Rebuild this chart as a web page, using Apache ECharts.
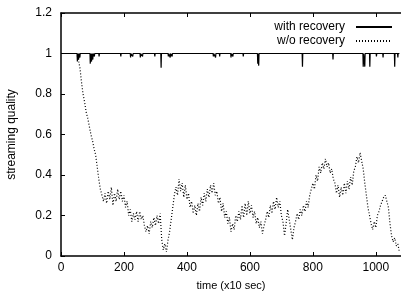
<!doctype html>
<html lang="en">
<head>
	<meta charset="utf-8" />
	<title>streaming quality</title>
	<script src="https://cdn.jsdelivr.net/npm/echarts@6/dist/echarts.min.js"></script>
	<style>
		html, body { margin: 0; padding: 0; background: #fff; }
		#main { width: 401px; height: 295px; }
	</style>
</head>
<body>
	<div id="main"></div>
	<script>
		// time axis (x10 sec), one sample every 5 units
		var timeStep = 5;
		var xTicks = [0, 200, 400, 600, 800, 1000];
		var yTicks = [0, 0.2, 0.4, 0.6, 0.8, 1, 1.2];

		// w/o recovery: quality, t = 0, 5, 10, ...
		var withoutRecovery = [
			1, 1, 1, 1, 1, 1, 1, 1, 1, 1,
			1.0, 0.97, 0.93, 0.86, 0.80, 0.76, 0.71, 0.68, 0.64, 0.60,
			0.57, 0.53, 0.50, 0.44, 0.38, 0.33, 0.30, 0.27, 0.31, 0.26,
			0.32, 0.28, 0.34, 0.25, 0.31, 0.27, 0.33, 0.28, 0.32, 0.27,
			0.30, 0.24, 0.27, 0.20, 0.23, 0.17, 0.21, 0.18, 0.22, 0.17,
			0.22, 0.18, 0.20, 0.15, 0.12, 0.15, 0.11, 0.17, 0.14, 0.19,
			0.15, 0.20, 0.16, 0.21, 0.08, 0.03, 0.06, 0.02, 0.08, 0.12,
			0.18, 0.24, 0.30, 0.34, 0.30, 0.38, 0.32, 0.36, 0.29, 0.35,
			0.28, 0.31, 0.24, 0.27, 0.21, 0.25, 0.20, 0.26, 0.22, 0.29,
			0.25, 0.31, 0.27, 0.33, 0.29, 0.35, 0.31, 0.36, 0.30, 0.32,
			0.26, 0.29, 0.22, 0.26, 0.19, 0.22, 0.16, 0.19, 0.12, 0.16,
			0.13, 0.20, 0.17, 0.22, 0.18, 0.25, 0.19, 0.26, 0.20, 0.27,
			0.21, 0.25, 0.19, 0.22, 0.16, 0.19, 0.14, 0.17, 0.11, 0.15,
			0.18, 0.22, 0.19, 0.25, 0.21, 0.27, 0.23, 0.29, 0.24, 0.27,
			0.20, 0.17, 0.10, 0.16, 0.23, 0.18, 0.13, 0.08, 0.14, 0.17,
			0.21, 0.18, 0.23, 0.20, 0.25, 0.22, 0.27, 0.24, 0.30, 0.33,
			0.36, 0.33, 0.40, 0.37, 0.44, 0.41, 0.46, 0.43, 0.48, 0.44,
			0.46, 0.41, 0.43, 0.38, 0.36, 0.31, 0.35, 0.29, 0.34, 0.30,
			0.36, 0.31, 0.37, 0.33, 0.39, 0.35, 0.42, 0.44, 0.49, 0.46,
			0.51, 0.47, 0.43, 0.36, 0.30, 0.24, 0.20, 0.16, 0.13, 0.17,
			0.14, 0.20, 0.22, 0.25, 0.27, 0.29, 0.30, 0.27, 0.24, 0.16,
			0.10, 0.07, 0.09, 0.05, 0.06, 0.02
		];

		// with recovery: stays at 1 except short dips
		var dipTimes = [52, 56, 60, 93, 97, 101, 106, 121, 190, 221, 228, 252, 259, 298, 318, 341, 347, 353,
			484, 491, 504, 540, 546, 579, 625, 628, 767, 864, 960, 965, 981, 1002, 1023, 1060, 1070];
		var dipValues = [0.96, 0.97, 0.98, 0.95, 0.96, 0.97, 0.985, 0.985, 0.985, 0.98, 0.985, 0.98, 0.985, 0.985, 0.93, 0.985, 0.98, 0.985,
			0.985, 0.98, 0.985, 0.98, 0.985, 0.985, 0.95, 0.94, 0.935, 0.97, 0.935, 0.935, 0.935, 0.985, 0.98, 0.935, 0.98];
		var endTime = 1075;

		var woData = withoutRecovery.map(function (v, i) { return [i * timeStep, v]; });

		var withData = [[0, 1]];
		dipTimes.forEach(function (t, i) {
			withData.push([t - 1, 1]);
			withData.push([t, dipValues[i]]);
			withData.push([t + 1, 1]);
		});
		withData.push([endTime, 1]);

		var textFont = 'Liberation Sans';
		var chart = echarts.init(document.getElementById('main'));

		var option = {
			animation: false,
			backgroundColor: '#fff',
			grid: { left: 61, right: 0, top: 13, bottom: 39, outerBoundsMode: 'none' },
			legend: {
				orient: 'vertical',
				right: 3,
				top: 16,
				align: 'right',
				itemWidth: 36,
				itemHeight: 10,
				itemGap: 2,
				itemStyle: { color: 'transparent', borderWidth: 0, opacity: 0 },
				textStyle: { fontFamily: textFont, fontSize: 12, color: '#000', padding: [0, 6, 0, 0] },
				data: ['with recovery', 'w/o recovery']
			},
			xAxis: [{
				type: 'value',
				min: 0,
				max: 1080,
				interval: 200,
				name: 'time (x10 sec)',
				nameLocation: 'middle',
				nameGap: 24,
				nameTextStyle: { fontFamily: textFont, fontSize: 11, color: '#000' },
				axisLine: { show: true, lineStyle: { color: '#000', width: 1.5 } },
				axisTick: { show: true, inside: true, length: 4, lineStyle: { color: '#000' } },
				axisLabel: {
					fontFamily: textFont, fontSize: 12, color: '#000', margin: 6,
					formatter: function (v) { return xTicks.indexOf(v) >= 0 ? String(v) : ''; }
				},
				splitLine: { show: false }
			}, {
				type: 'value',
				position: 'top',
				min: 0,
				max: 1080,
				interval: 200,
				axisLine: { show: true, lineStyle: { color: '#000', width: 1.5 } },
				axisTick: { show: true, inside: true, length: 4, lineStyle: { color: '#000' } },
				axisLabel: { show: false },
				splitLine: { show: false }
			}],
			yAxis: {
				type: 'value',
				min: 0,
				max: 1.2,
				interval: 0.2,
				name: 'streaming quality',
				nameLocation: 'middle',
				nameGap: 43,
				nameTextStyle: { fontFamily: textFont, fontSize: 12, color: '#000' },
				axisLine: { show: true, lineStyle: { color: '#000', width: 1.5 } },
				axisTick: { show: true, inside: true, length: 4, lineStyle: { color: '#000' } },
				axisLabel: {
					fontFamily: textFont, fontSize: 12, color: '#000', margin: 9,
					formatter: function (v) {
						var r = Math.round(v * 10) / 10;
						return yTicks.indexOf(r) >= 0 ? String(r) : '';
					}
				},
				splitLine: { show: false }
			},
			series: [{
				name: 'with recovery',
				type: 'line',
				data: withData,
				symbol: 'none',
				z: 3,
				lineStyle: { color: '#000', width: 1.2 },
				itemStyle: { color: '#000' }
			}, {
				name: 'w/o recovery',
				type: 'line',
				data: woData,
				symbol: 'none',
				z: 2,
				lineStyle: { color: '#000', width: 1.2, type: [1, 2] },
				itemStyle: { color: '#000' }
			}]
		};
		chart.setOption(option);
	</script>
</body>
</html>
